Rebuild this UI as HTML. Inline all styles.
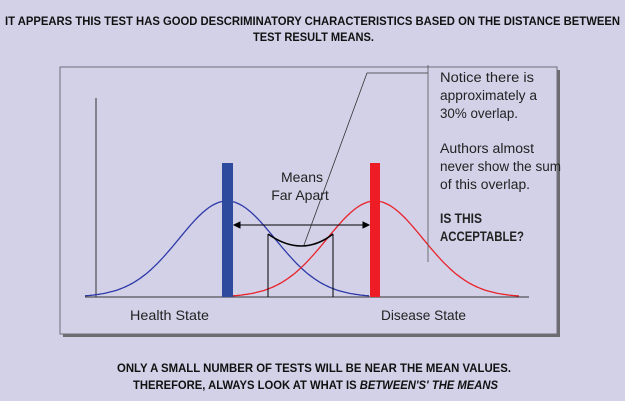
<!DOCTYPE html>
<html><head><meta charset="utf-8"><style>
body{margin:0;background:#d3d1e8;}
svg{display:block;font-family:"Liberation Sans",sans-serif;}
</style></head><body>
<svg width="625" height="401" viewBox="0 0 625 401">
<rect x="0" y="0" width="625" height="401" fill="#d3d1e8"/>
<g font-weight="bold" font-size="12" fill="#111">
<text x="5" y="25" textLength="615" lengthAdjust="spacingAndGlyphs">IT APPEARS THIS TEST HAS GOOD DESCRIMINATORY CHARACTERISTICS BASED ON THE DISTANCE BETWEEN</text>
<text x="253" y="41" textLength="121" lengthAdjust="spacingAndGlyphs">TEST RESULT MEANS.</text>
</g>
<rect x="63" y="70" width="497" height="267" fill="#6b6b70"/>
<rect x="60" y="67" width="497" height="267" fill="#d3d1e8" stroke="#707078" stroke-width="1"/>
<line x1="96" y1="98" x2="96" y2="297" stroke="#333" stroke-width="1"/>
<line x1="85" y1="297" x2="529" y2="297" stroke="#333" stroke-width="1"/>
<g id="curves"></g>
<rect x="222" y="163" width="11" height="134" fill="#2e4a9e"/>
<rect x="370" y="163" width="10" height="134" fill="#ee1c24"/>
<g stroke="#000" stroke-width="1">
<line x1="236" y1="225" x2="367" y2="225"/>
<polygon points="234,225 240,222 240,228" fill="#000"/>
<polygon points="369,225 363,222 363,228" fill="#000"/>
</g>
<line x1="268" y1="234" x2="268" y2="297" stroke="#000"/>
<line x1="333" y1="234" x2="333" y2="297" stroke="#000"/>
<path d="M268,234 Q302,258 333,234" fill="none" stroke="#000" stroke-width="1.5"/>
<polyline points="304,245 367,73 428,73" fill="none" stroke="#333" stroke-width="0.8"/>
<line x1="428" y1="65" x2="428" y2="262" stroke="#555" stroke-width="0.8"/>
<g font-size="14" fill="#222">
<text x="302" y="182" text-anchor="middle">Means</text>
<text x="300" y="200" text-anchor="middle">Far Apart</text>
</g>
<g font-size="13.5" fill="#222">
<text x="440" y="82" textLength="94" lengthAdjust="spacingAndGlyphs">Notice there is</text>
<text x="440" y="100" textLength="97" lengthAdjust="spacingAndGlyphs">approximately a</text>
<text x="440" y="118" textLength="78" lengthAdjust="spacingAndGlyphs">30% overlap.</text>
<text x="440" y="153" textLength="94" lengthAdjust="spacingAndGlyphs">Authors almost</text>
<text x="440" y="171" textLength="121" lengthAdjust="spacingAndGlyphs">never show the sum</text>
<text x="440" y="189" textLength="90" lengthAdjust="spacingAndGlyphs">of this overlap.</text>
<text x="440" y="223" font-weight="bold" textLength="42" lengthAdjust="spacingAndGlyphs">IS THIS</text>
<text x="440" y="241" font-weight="bold" textLength="84" lengthAdjust="spacingAndGlyphs">ACCEPTABLE?</text>
</g>
<text x="130" y="320" font-size="14" fill="#222" textLength="79" lengthAdjust="spacingAndGlyphs">Health State</text>
<text x="381" y="320" font-size="14" fill="#222" textLength="85" lengthAdjust="spacingAndGlyphs">Disease State</text>
<g font-weight="bold" font-size="12" fill="#111">
<text x="117" y="372" textLength="394" lengthAdjust="spacingAndGlyphs">ONLY A SMALL NUMBER OF TESTS WILL BE NEAR THE MEAN VALUES.</text>
<text x="133" y="389" textLength="365" lengthAdjust="spacingAndGlyphs">THEREFORE, ALWAYS LOOK AT WHAT IS <tspan font-style="italic">BETWEEN'S' THE MEANS</tspan></text>
</g>
</svg>
<script>
const seriesNames = ["health", "disease"];
const seriesMeans = [227, 375];
const seriesSigma = [48, 48];
const seriesPeak = [96, 96];
const seriesColors = ["#2e3aa8", "#e8232a"];
const baseY = 297;
const xRange = [[85, 370], [233, 520]];
function yAt(i, x){
  const z = (x - seriesMeans[i]) / seriesSigma[i];
  return baseY - seriesPeak[i] * Math.exp(-0.5 * z * z);
}
const g = document.getElementById('curves');
for (let i = 0; i < seriesNames.length; i++) {
  let d = '';
  for (let x = xRange[i][0]; x <= xRange[i][1]; x += 2) {
    d += (d ? 'L' : 'M') + x + ',' + yAt(i, x).toFixed(1);
  }
  const p = document.createElementNS('http://www.w3.org/2000/svg', 'path');
  p.setAttribute('d', d);
  p.setAttribute('fill', 'none');
  p.setAttribute('stroke', seriesColors[i]);
  p.setAttribute('stroke-width', '1.3');
  
  
  g.appendChild(p);
}
</script>
</body></html>
